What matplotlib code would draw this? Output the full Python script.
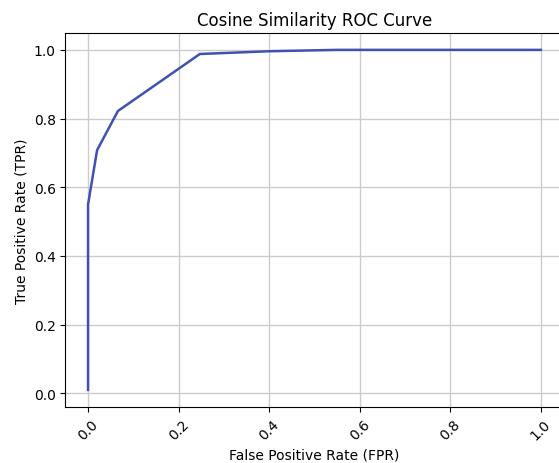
import matplotlib
matplotlib.use("Agg")
import matplotlib.pyplot as plt

fpr = [0.0, 0.0, 0.02, 0.066, 0.247, 0.40, 0.55, 1.0]
tpr = [0.01, 0.55, 0.708, 0.822, 0.988, 0.996, 1.0, 1.0]

fig = plt.figure(figsize=(5.59, 4.64), dpi=100)
ax = fig.add_axes([0.117, 0.121, 0.891, 0.806])
ax.plot(fpr, tpr, color="#3f51b5", linewidth=1.8)
ax.set_title("Cosine Similarity ROC Curve", fontsize=12)
ax.set_xlabel("False Positive Rate (FPR)", fontsize=10)
ax.set_ylabel("True Positive Rate (TPR)", fontsize=10)
ax.tick_params(labelsize=10)
ax.set_xticks([0.0, 0.2, 0.4, 0.6, 0.8, 1.0])
ax.set_yticks([0.0, 0.2, 0.4, 0.6, 0.8, 1.0])
plt.setp(ax.get_xticklabels(), rotation=45)
ax.grid(True, color="#cccccc", linewidth=1.0)
fig.savefig("out.png", dpi=100)
